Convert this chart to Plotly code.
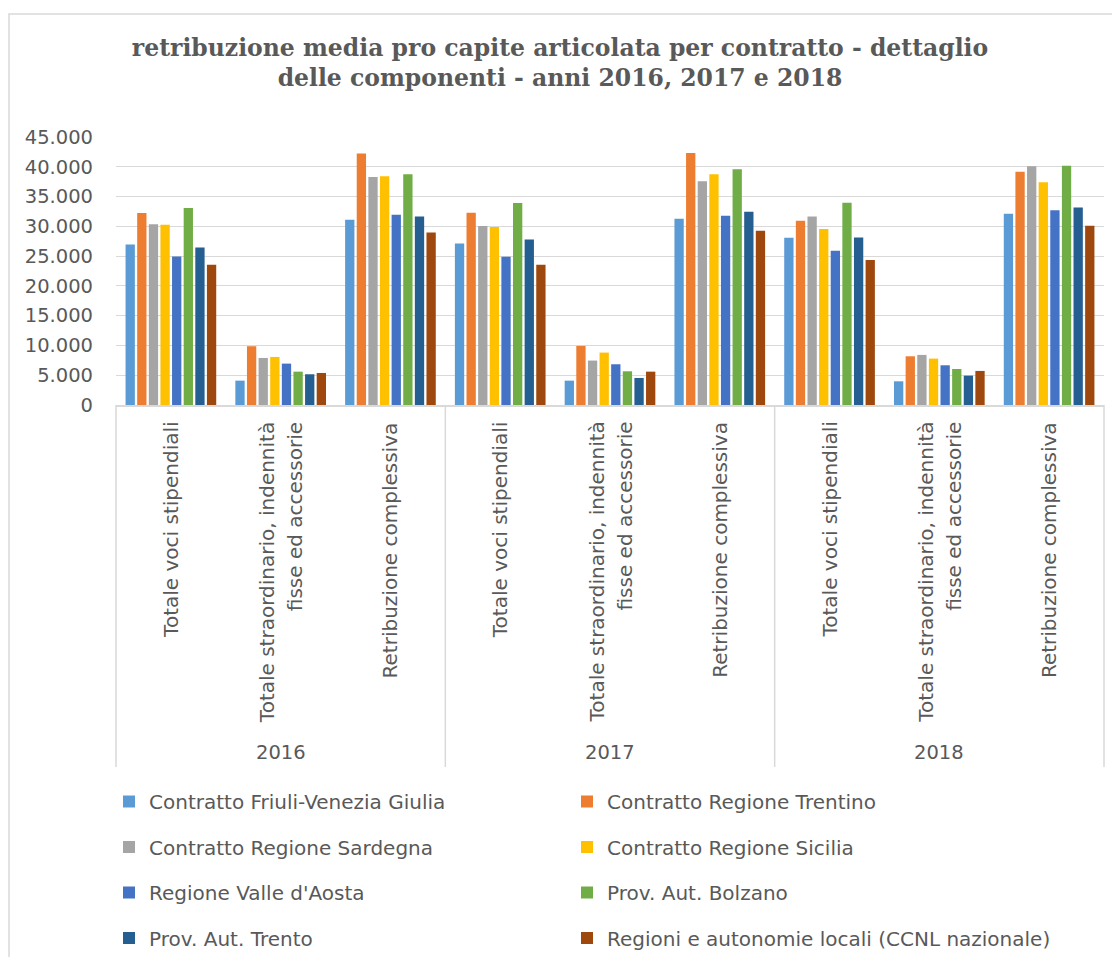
import plotly.graph_objects as go

# ---------------- data ----------------
years = ["2016", "2017", "2018"]
categories = [
    "Totale voci stipendiali",
    "Totale straordinario, indennità\nfisse ed accessorie",
    "Retribuzione complessiva",
]
series_names = [
    "Contratto Friuli-Venezia Giulia",
    "Contratto Regione Trentino",
    "Contratto Regione Sardegna",
    "Contratto Regione Sicilia",
    "Regione Valle d'Aosta",
    "Prov. Aut. Bolzano",
    "Prov. Aut. Trento",
    "Regioni e autonomie locali (CCNL nazionale)",
]
# values in order: 2016 (3 cats), 2017 (3 cats), 2018 (3 cats)
fvg      = [26960, 4090, 31110, 27130, 4090, 31280, 28080, 3980, 32120]
trentino = [32230, 9870, 42210, 32290, 9920, 42320, 30940, 8180, 39180]
sardegna = [30330, 7900, 38290, 30040, 7460, 37560, 31670, 8410, 40080]
sicilia  = [30270, 8070, 38400, 29880, 8800, 38730, 29540, 7790, 37390]
vda      = [24940, 6950, 31950, 24890, 6840, 31780, 25900, 6670, 32680]
bolzano  = [33070, 5600, 38730, 33910, 5660, 39570, 33970, 6050, 40190]
trento   = [26460, 5160, 31670, 27800, 4540, 32460, 28140, 4930, 33180]
ccnl     = [23540, 5380, 28980, 23540, 5600, 29260, 24330, 5720, 30100]
series_values = [fvg, trentino, sardegna, sicilia, vda, bolzano, trento, ccnl]

y_tickvals = [0, 5000, 10000, 15000, 20000, 25000, 30000, 35000, 40000, 45000]
y_ticktext = ["0", "5.000", "10.000", "15.000", "20.000", "25.000",
              "30.000", "35.000", "40.000", "45.000"]

title_text = ("retribuzione media pro capite articolata per contratto - dettaglio"
              "<br>delle componenti - anni 2016, 2017 e 2018")

# ---------------- style ----------------
colors = ["#5B9BD5", "#ED7D31", "#A5A5A5", "#FFC000",
          "#4472C4", "#70AD47", "#255E91", "#9E480E"]
TXT = "#595959"
GRID = "#D9D9D9"
SANS = "DejaVu Sans"

OFF = 8  # page body margin
W, H = 1120 - 2 * OFF, 965 - 2 * OFF
# plot area in reference page pixels: x 116..1104, y 137..405
PL, PR, PT, PB = 116, 1104, 137, 405
L = PL - OFF
R = W - (PR - OFF)
T = PT - OFF
B = H - (PB - OFF)
plot_h = PB - PT
plot_w = PR - PL


def py(ref_y):
    """reference page pixel y -> paper y"""
    return (PB - ref_y) / plot_h


def px(ref_x):
    """reference page pixel x -> paper x"""
    return (ref_x - PL) / plot_w


def cy(ref_y):
    """reference page pixel y -> container y"""
    return 1 - (ref_y - OFF) / H


def cx(ref_x):
    """reference page pixel x -> container x"""
    return (ref_x - OFF) / W


keys = [f"{y}|{c}" for y in years for c in categories]

fig = go.Figure()
for i, (name, vals) in enumerate(zip(series_names, series_values)):
    fig.add_trace(go.Bar(
        name=name, x=keys, y=vals,
        marker=dict(color=colors[i], line=dict(width=0)),
        legend="legend" if i % 2 == 0 else "legend2",
        legendgroup=name,
    ))

annotations = []
# inner category labels (rotated)
for k in keys:
    cat = k.split("|", 1)[1]
    lines = cat.split("\n")
    n = len(lines)
    for j, ln in enumerate(lines):
        annotations.append(dict(
            x=k, xref="x", y=py(420), yref="paper",
            text=ln, showarrow=False, textangle=-90,
            xanchor="center", yanchor="top",
            xshift=(j - (n - 1) / 2) * 28,
            font=dict(family=SANS, size=20, color=TXT),
        ))
# outer year labels
for yi, yr in enumerate(years):
    mid = keys[yi * len(categories) + len(categories) // 2]
    annotations.append(dict(
        x=mid, xref="x", y=py(752), yref="paper",
        text=yr, showarrow=False, xanchor="center", yanchor="middle",
        font=dict(family=SANS, size=19.5, color=TXT),
    ))

shapes = []
# dividers between year groups
for d in range(len(years) + 1):
    shapes.append(dict(
        type="line", xref="paper", yref="paper",
        x0=d / len(years), x1=d / len(years), y0=0, y1=py(767),
        line=dict(color=GRID, width=1.5),
    ))
# chart border
shapes.append(dict(
    type="rect", xref="paper", yref="paper",
    x0=px(9), x1=px(1135), y0=py(14), y1=py(985),
    line=dict(color=GRID, width=1.5), fillcolor="rgba(0,0,0,0)",
))

legend_common = dict(
    orientation="v", xanchor="left", yanchor="top",
    xref="container", yref="container",
    tracegroupgap=16.5, bgcolor="rgba(0,0,0,0)",
    font=dict(family=SANS, size=20, color=TXT),
    traceorder="grouped",
)

fig.update_layout(
    width=W, height=H,
    margin=dict(l=L, r=R, t=T, b=B, autoexpand=False),
    paper_bgcolor="white", plot_bgcolor="white",
    title=dict(
        text=title_text, x=px(560), xanchor="center", xref="paper",
        y=cy(55.5), yanchor="middle", yref="container",
        font=dict(family="DejaVu Serif", size=23.5, color=TXT, weight="bold"),
    ),
    barmode="group", bargap=0.153, bargroupgap=0.2,
    xaxis=dict(
        type="category", showticklabels=False, showgrid=False,
        showline=True, linecolor=GRID, linewidth=1.5, ticks="",
        zeroline=False,
    ),
    yaxis=dict(
        range=[0, 45000], tickvals=y_tickvals, ticktext=y_ticktext,
        showgrid=True, gridcolor=GRID, gridwidth=1.3,
        zeroline=False, showline=False, ticks="",
        ticklabelstandoff=22,
        tickfont=dict(family=SANS, size=19.5, color=TXT),
    ),
    legend=dict(x=cx(109), y=cy(782), **legend_common),
    legend2=dict(x=cx(567), y=cy(782), **legend_common),
    annotations=annotations,
    shapes=shapes,
    showlegend=True,
)

fig.write_html("out.html")
